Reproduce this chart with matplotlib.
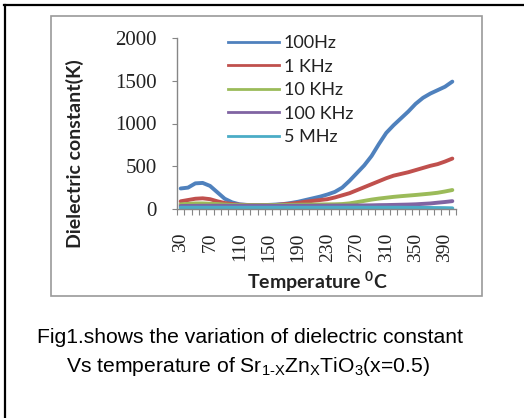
import matplotlib
matplotlib.use("Agg")
import matplotlib.pyplot as plt
from matplotlib.lines import Line2D
from matplotlib.patches import Rectangle
import numpy as np

temps = list(range(30, 401, 10))
tick_labels = [str(t) for t in temps[::4]]

labels = ["100Hz", "1 KHz", "10 KHz", "100 KHz", "5 MHz"]
colors = ["#4F81BD", "#C0504D", "#9BBB59", "#8064A2", "#4BACC6"]

k_100hz = [240, 250, 300, 305, 270, 195, 120, 78, 55, 48, 45, 45, 48, 52, 58, 70,
           85, 105, 125, 145, 170, 200, 250, 330, 420, 510, 620, 760, 890, 980,
           1060, 1140, 1230, 1300, 1350, 1390, 1430, 1490]
k_1khz = [90, 105, 120, 125, 115, 90, 70, 58, 50, 47, 45, 45, 46, 48, 55, 62,
          72, 85, 95, 105, 115, 135, 160, 185, 220, 255, 290, 325, 360, 390,
          410, 430, 455, 480, 505, 525, 555, 590]
k_10khz = [55, 60, 65, 65, 62, 58, 52, 48, 46, 45, 45, 45, 46, 47, 48, 49,
           50, 51, 52, 53, 54, 55, 58, 66, 80, 95, 110, 122, 132, 142,
           150, 157, 164, 172, 180, 190, 205, 222]
k_100khz = [35, 36, 37, 38, 38, 38, 38, 38, 38, 38, 38, 38, 38, 38, 38, 38,
            38, 38, 38, 39, 39, 40, 40, 40, 41, 42, 43, 45, 46, 48,
            50, 52, 55, 60, 65, 74, 82, 92]
k_5mhz = [15, 15, 15, 15, 15, 15, 15, 15, 15, 15, 15, 15, 15, 15, 15, 15,
          15, 15, 15, 15, 15, 15, 15, 15, 15, 15, 15, 15, 15, 15,
          15, 14, 14, 13, 12, 11, 10, 8]
series = [k_100hz, k_1khz, k_10khz, k_100khz, k_5mhz]

W, H = 524, 418
fig = plt.figure(figsize=(W / 100, H / 100), dpi=100)
fig.patch.set_facecolor("white")

def fx(px):
    return px / W

def fy(py):
    return 1 - py / H

# outer frame lines (top and left)
fig.add_artist(Line2D([fx(4), fx(524)], [fy(5), fy(5)], color="black", lw=1.6,
                      transform=fig.transFigure))
fig.add_artist(Line2D([fx(5), fx(5)], [fy(5), fy(418)], color="black", lw=1.6,
                      transform=fig.transFigure))
# chart area border
fig.add_artist(Rectangle((fx(51), fy(296)), fx(482) - fx(51), fy(16) - fy(296),
                         transform=fig.transFigure, fill=False,
                         edgecolor="#9a9a9a", lw=1.2))

ax = fig.add_axes([fx(177), fy(209), fx(456) - fx(177), fy(38) - fy(209)])
x = np.arange(len(temps))
for vals, c, lab in zip(series, colors, labels):
    ax.plot(x, vals, color=c, lw=2.8, label=lab, solid_capstyle="round")

ax.set_xlim(-0.5, len(temps) - 0.5)
ax.set_ylim(0, 2000)
for s in ["top", "right"]:
    ax.spines[s].set_visible(False)
for s in ["left", "bottom"]:
    ax.spines[s].set_color("#868686")
    ax.spines[s].set_linewidth(1.0)

ax.set_yticks([0, 500, 1000, 1500, 2000])
ax.tick_params(axis="y", direction="out", length=3.6, width=0.8, color="#868686",
               pad=11, labelsize=15, labelcolor="#222222")
for t in ax.get_yticklabels():
    t.set_family("Liberation Serif")

ax.set_xticks(np.arange(-0.5, len(temps), 1))
ax.set_xticklabels([])
ax.tick_params(axis="x", which="major", direction="out", length=4.3, width=0.8,
               color="#868686")
ax.set_xticks(x[::4], minor=True)
ax.set_xticklabels(tick_labels, minor=True, rotation=90, family="Liberation Serif",
                   fontsize=14, color="#222222")
ax.tick_params(axis="x", which="minor", length=0, pad=17)

handles = [Line2D([], [], color=c, lw=2.0) for c in colors]
leg = ax.legend(handles, labels, loc="upper left", frameon=False,
                bbox_to_anchor=(fx(228), fy(35)), bbox_transform=fig.transFigure,
                borderpad=0, borderaxespad=0, handlelength=2.85, handletextpad=0.25,
                labelspacing=0.42, prop={"family": "Lato", "size": 13})
for t in leg.get_texts():
    t.set_color("#222222")

fig.text(fx(75), fy(154), "Dielectric constant(K)", rotation=90, ha="center",
         va="center", family="Lato", weight="bold", fontsize=14, color="#222222")
fig.text(fx(317), fy(282), r"Temperature $\mathregular{^0}$C", ha="center",
         va="center", family="Lato", weight="bold", fontsize=14, color="#222222")

fig.text(fx(250), fy(343), "Fig1.shows the variation of dielectric constant",
         ha="center", va="baseline", family="Liberation Sans", fontsize=15.2)
fig.text(fx(248), fy(372),
         "Vs temperature of Sr$\\mathregular{_{1\u2010X}}$Zn$\\mathregular{_X}$TiO$\\mathregular{_3}$(x=0.5)",
         ha="center", va="baseline", family="Liberation Sans", fontsize=15.2)

fig.savefig("out.png", dpi=100, facecolor="white")
